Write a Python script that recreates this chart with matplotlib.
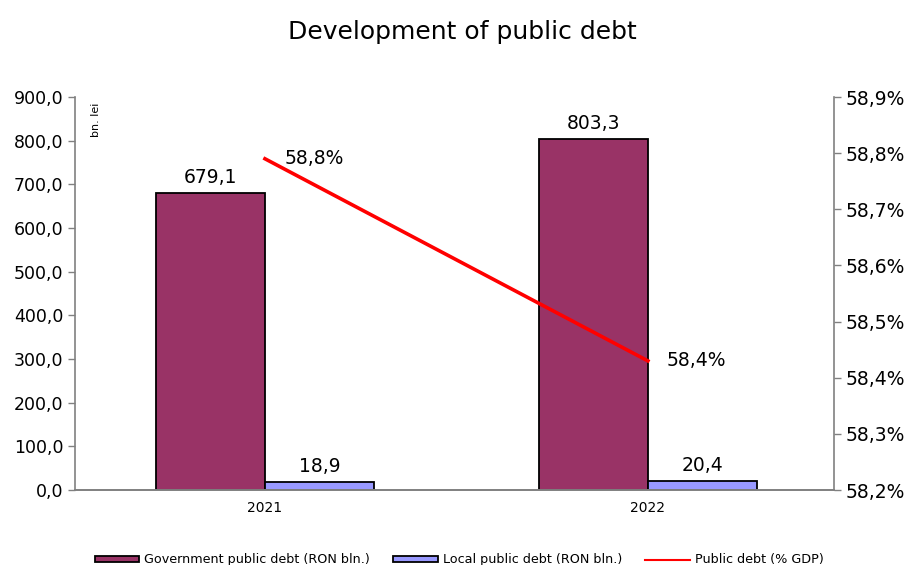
import matplotlib

matplotlib.use("Agg")
import matplotlib.pyplot as plt
from matplotlib.ticker import FuncFormatter
import numpy as np

YEARS = ["2021", "2022"]
GOV_DEBT = [679.1, 803.3]        # RON bln.
LOCAL_DEBT = [18.9, 20.4]        # RON bln.
DEBT_PCT_GDP = [58.79, 58.43]    # % of GDP

GOV_COLOR = "#993366"
LOCAL_COLOR = "#9999ff"
LINE_COLOR = "#ff0000"
SPINE_COLOR = "#808080"

plt.rcParams["font.family"] = ["DejaVu Sans"]


def comma(v, decimals=1):
    return f"{v:.{decimals}f}".replace(".", ",")


fig = plt.figure(figsize=(9.24, 5.65), dpi=100)
ax = fig.add_axes([0.0812, 0.1327, 0.8214, 0.6956])
ax2 = ax.twinx()

x = np.arange(len(YEARS))
w = 0.285
b1 = ax.bar(x - w / 2, GOV_DEBT, w, color=GOV_COLOR, edgecolor="black",
            linewidth=1.3, label="Government public debt (RON bln.)", zorder=2)
b2 = ax.bar(x + w / 2, LOCAL_DEBT, w, color=LOCAL_COLOR, edgecolor="black",
            linewidth=1.3, label="Local public debt (RON bln.)", zorder=2)

for rect, v in zip(list(b1) + list(b2), GOV_DEBT + LOCAL_DEBT):
    ax.text(rect.get_x() + rect.get_width() / 2, v + 14, comma(v),
            ha="center", va="bottom", fontsize=13.5)

ax.set_xlim(-0.496, 1.486)
ax.set_ylim(0, 900)
ax.set_yticks(np.arange(0, 901, 100))
ax.yaxis.set_major_formatter(FuncFormatter(lambda v, _: comma(v)))
ax.set_xticks(x)
ax.set_xticklabels(YEARS)
ax.tick_params(axis="x", length=0, pad=8, labelsize=10)
ax.tick_params(axis="y", length=5, width=1, color=SPINE_COLOR, labelsize=12.5)
ax.text(0.028, 0.985, "bn. lei", transform=ax.transAxes, rotation=90,
        ha="center", va="top", fontsize=8)

line, = ax2.plot(x, DEBT_PCT_GDP, color=LINE_COLOR, lw=2.6,
                 label="Public debt (% GDP)", zorder=3)
for xi, v in zip(x, DEBT_PCT_GDP):
    ax2.text(xi + 0.05, v, f"{comma(v)}%", ha="left", va="center",
             fontsize=13.5)
ax2.set_ylim(58.2, 58.9)
ax2.set_yticks(np.arange(58.2, 58.91, 0.1))
ax2.yaxis.set_major_formatter(FuncFormatter(lambda v, _: f"{comma(v)}%"))
ax2.tick_params(axis="y", length=5, width=1, color=SPINE_COLOR, labelsize=13.5)

for a in (ax, ax2):
    a.spines["top"].set_visible(False)
    for s in ("left", "right", "bottom"):
        a.spines[s].set_color(SPINE_COLOR)
        a.spines[s].set_linewidth(1.2)
ax.spines["right"].set_visible(False)
ax2.spines["left"].set_visible(False)

fig.text(0.5, 0.943, "Development of public debt", ha="center", va="center",
         fontsize=18)

leg = fig.legend(handles=[b1, b2, line], loc="lower center",
                 bbox_to_anchor=(0.497, -0.023), ncol=3, frameon=False,
                 fontsize=9.2, handlelength=3.5, handleheight=0.45,
                 handletextpad=0.4, columnspacing=1.8)
leg.legend_handles[2].set_linewidth(1.5)

fig.savefig("out.png", dpi=100)
